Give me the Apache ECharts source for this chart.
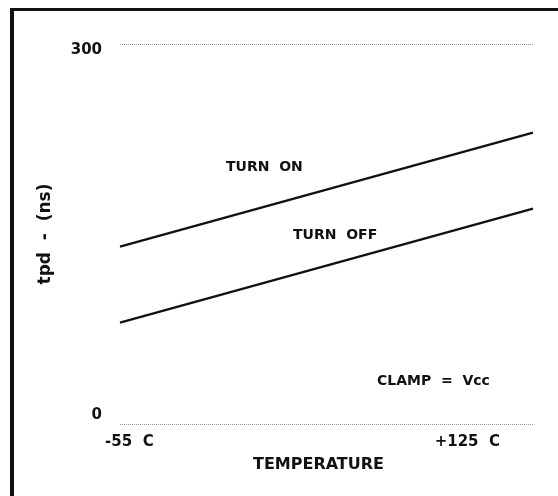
<!DOCTYPE html>
<html>
<head>
<meta charset="utf-8">
<script src="https://cdn.jsdelivr.net/npm/echarts@6/dist/echarts.min.js"></script>
<style>
html, body { margin: 0; padding: 0; background: #fff; }
#main { width: 558px; height: 496px; }
</style>
</head>
<body>
<div id="main"></div>
<script>
// temperature (C) at the two ends of each curve
var temps = [-60, 160];
var turnOn = [140, 230];
var turnOff = [80, 170];
var yTicks = [0, 300];
var xTickLabels = { '-55': '-55  C', '125': '+125  C' };

var chart = echarts.init(document.getElementById('main'), null, {renderer: 'canvas'});

function pairs(xs, ys) {
    return xs.map(function (x, i) { return [x, ys[i]]; });
}

var font = 'DejaVu Sans';
var ink = '#111';

var option = {
    animation: false,
    backgroundColor: '#fff',
    grid: { left: 120, right: 25, top: 44, bottom: 72 },
    xAxis: {
        type: 'value',
        min: -60,
        max: 160,
        interval: 5,
        name: 'TEMPERATURE',
        nameLocation: 'middle',
        nameGap: 33,
        nameTextStyle: { fontFamily: font, fontWeight: 'bold', fontSize: 16, color: ink, padding: [0, 16, 0, 0] },
        axisLine: { show: false },
        axisTick: { show: false },
        splitLine: { show: false },
        axisLabel: {
            margin: 11,
            fontFamily: font, fontWeight: 'bold', fontSize: 15, color: ink,
            showMinLabel: true, showMaxLabel: true,
            formatter: function (v) { return xTickLabels[String(v)] || ''; }
        }
    },
    yAxis: {
        type: 'value',
        min: yTicks[0],
        max: yTicks[1],
        interval: 300,
        name: 'tpd  -  (ns)',
        nameLocation: 'middle',
        nameGap: 66,
        nameTextStyle: { fontFamily: font, fontWeight: 'bold', fontSize: 17, color: ink },
        axisLine: { show: false },
        axisTick: { show: false },
        axisLabel: {
            margin: 18,
            fontFamily: font, fontSize: 15, fontWeight: 'bold', color: ink,
            formatter: function (v) { return v === 0 ? '{lo|0}' : '{hi|' + v + '}'; },
            rich: {
                lo: { fontFamily: font, fontSize: 15, fontWeight: 'bold', color: ink, padding: [0, 0, 18, 0] },
                hi: { fontFamily: font, fontSize: 15, fontWeight: 'bold', color: ink, padding: [12, 0, 0, 0] }
            }
        },
        splitLine: { show: true, lineStyle: { color: '#999', type: 'dotted', width: 1 } }
    },
    series: [
        {
            name: 'TURN ON', type: 'line', data: pairs(temps, turnOn),
            symbol: 'none', lineStyle: { color: ink, width: 2.4 }
        },
        {
            name: 'TURN OFF', type: 'line', data: pairs(temps, turnOff),
            symbol: 'none', lineStyle: { color: ink, width: 2.4 }
        }
    ],
    graphic: [
        { type: 'rect', shape: { x: 10, y: 8, width: 4, height: 488 }, style: { fill: ink } },
        { type: 'rect', shape: { x: 10, y: 8, width: 548, height: 3 }, style: { fill: ink } },
        { type: 'text', left: 226, top: 160, style: { text: 'TURN  ON', font: 'bold 14px "DejaVu Sans"', fill: ink } },
        { type: 'text', left: 293, top: 228, style: { text: 'TURN  OFF', font: 'bold 14px "DejaVu Sans"', fill: ink } },
        { type: 'text', left: 377, top: 374, style: { text: 'CLAMP  =  Vcc', font: 'bold 14px "DejaVu Sans"', fill: ink } }
    ]
};

chart.setOption(option);
</script>
</body>
</html>
